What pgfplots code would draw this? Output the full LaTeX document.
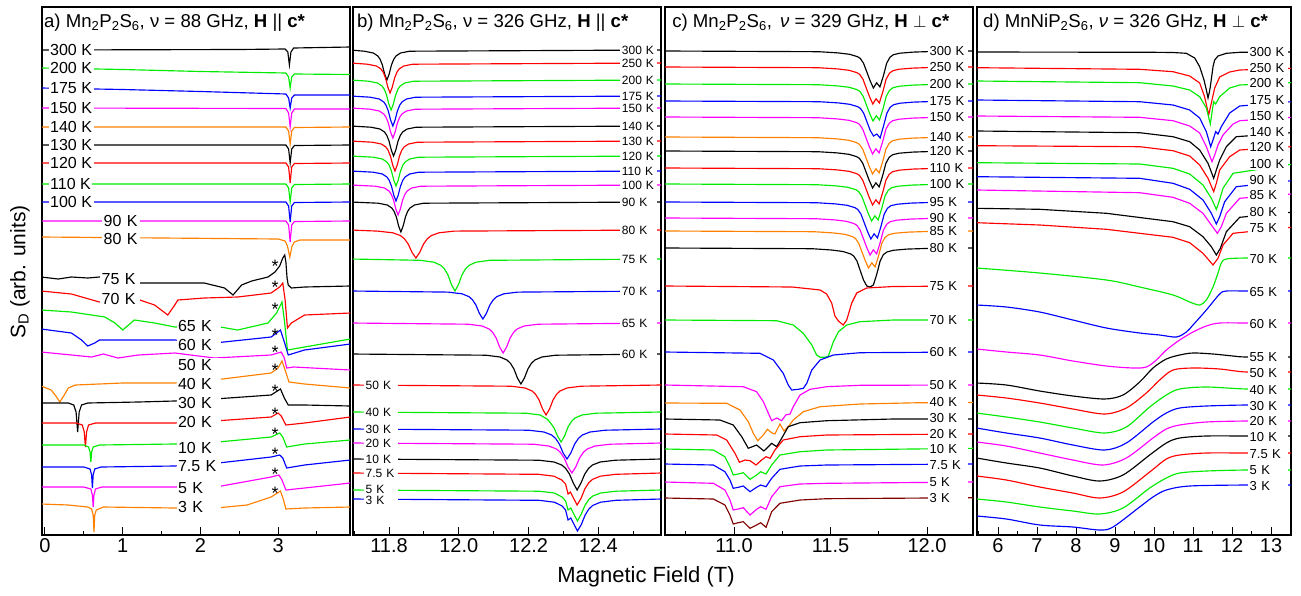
\documentclass[border=0pt]{standalone}
\usepackage{fontspec}
\setmainfont{Liberation Sans}
\usepackage{pgfplots}
\pgfplotsset{compat=1.18}
\definecolor{cred}{RGB}{255,0,0}
\definecolor{cgreen}{RGB}{0,235,0}
\definecolor{cblue}{RGB}{0,0,255}
\definecolor{cmag}{RGB}{255,0,255}
\definecolor{corange}{RGB}{255,128,0}
\definecolor{cbrown}{RGB}{128,0,0}

\newcommand{\fa}{\fontsize{16}{16}\selectfont}
\newcommand{\fs}{\fontsize{18}{18}\selectfont}
\newcommand{\fb}{\fontsize{12}{12}\selectfont}
\newcommand{\fc}{\fontsize{13}{13}\selectfont}
\newcommand{\ft}{\fontsize{18.6}{19}\selectfont}
\newcommand{\mps}{Mn\textsubscript{2}P\textsubscript{2}S\textsubscript{6}}
% labels inside an axis: expand the loop values before pgfplots defers the node
\newcommand{\labs}[3]{\foreach \t/\y in {#3}{\edef\tmp{\noexpand\node[lab,#1] at (#2,\y) {\t};}\tmp}}

\pgfplotsset{
  panel/.style={
    scale only axis, height=528pt, anchor=south west,
    ymin=7, ymax=535, y dir=reverse, ytick=\empty,
    xtick pos=left, tick align=inside,
    major tick length=8pt, minor tick length=4pt,
    every tick/.style={black, line width=1pt},
    axis line style={line width=1.3pt},
    xticklabel style={font=\fontsize{20}{20}\selectfont},
    every axis plot/.append style={line width=1.15pt},
    clip mode=individual,
  },
}
\tikzset{
  lab/.style={fill=white, inner xsep=1.5pt, inner ysep=1pt, anchor=west, text=black, align=left},
  ttl/.style={anchor=base west, inner sep=0pt, font=\ft},
}

\begin{document}
\begin{tikzpicture}
\useasboundingbox (0,0) rectangle (1301pt,595pt);

% ---------------- a) 88 GHz ----------------
\begin{axis}[panel, at={(42pt,60pt)}, width=308pt,
  xmin=-0.0386, xmax=3.925,
  xtick={0,1,2,3}, xticklabels={0,1,2,3}, minor xtick={0.5,1.5,2.5,3.5}]
\addplot[black] coordinates {(-0.05,50) (2.5,49.5) (3.09,49) (3.125,52) (3.145,65) (3.165,52) (3.2,48) (3.93,47)};
\addplot[cgreen] coordinates {(-0.05,68) (1,69.5) (2,71.5) (3.1,73) (3.135,77) (3.155,88) (3.175,77) (3.21,74) (3.93,74.5)};
\addplot[cblue] coordinates {(-0.05,88) (1,89.5) (2,91.5) (3.1,94) (3.135,98) (3.155,108) (3.175,98) (3.21,95) (3.93,95)};
\addplot[cmag] coordinates {(-0.05,108) (3.1,108.5) (3.135,113) (3.155,127) (3.175,113) (3.21,109) (3.93,109)};
\addplot[corange] coordinates {(-0.05,127) (3.1,127) (3.135,131) (3.155,144) (3.175,131) (3.21,127.5) (3.93,127)};
\addplot[black] coordinates {(-0.05,145) (3.1,145) (3.135,149) (3.155,163) (3.175,149) (3.21,145.5) (3.93,145)};
\addplot[cred] coordinates {(-0.05,163) (3.1,163) (3.135,167) (3.155,183) (3.175,167) (3.21,163.5) (3.93,163)};
\addplot[cgreen] coordinates {(-0.05,184) (3.1,184) (3.135,188) (3.155,202) (3.175,188) (3.21,184.5) (3.93,184)};
\addplot[cblue] coordinates {(-0.05,202) (3.1,202) (3.135,206) (3.155,222) (3.175,206) (3.21,202.5) (3.93,202)};
\addplot[cmag] coordinates {(-0.05,221) (3.1,221) (3.135,225) (3.155,242) (3.175,225) (3.21,221.5) (3.93,221)};
\addplot[corange] coordinates {(-0.05,237) (1.5,238) (3.0,239) (3.09,241) (3.12,246) (3.15,257) (3.18,246) (3.21,242) (3.28,240) (3.93,240)};
\addplot[black] coordinates {(-0.05,277) (0.17,279) (0.34,277) (0.55,278) (0.70,277) (1.22,283) (1.63,283) (2.05,283) (2.31,288) (2.42,295) (2.53,285) (2.66,281) (2.87,277) (2.96,272) (3.02,266) (3.06,258) (3.085,255) (3.10,262) (3.115,278) (3.13,285) (3.17,288) (3.34,287) (3.93,286)};
\addplot[cred] coordinates {(-0.05,291) (0.34,294) (0.70,302) (1.22,300) (1.41,305) (1.58,315) (1.67,305) (1.71,300) (2.05,298) (2.48,297) (2.91,293) (3.02,287) (3.06,283) (3.09,300) (3.12,328) (3.17,323) (3.34,315) (3.93,313)};
\addplot[cgreen] coordinates {(-0.05,310) (0.34,312) (0.77,317) (0.90,323) (1.00,330) (1.15,320) (1.41,323) (1.67,327) (2.18,326) (2.48,330) (2.87,323) (2.98,313) (3.05,302) (3.08,320) (3.12,350) (3.34,347) (3.93,339)};
\addplot[cblue] coordinates {(-0.05,329) (0.34,333) (0.47,340) (0.55,346) (0.64,343) (0.70,340) (1.20,340) (1.67,340) (2.18,343) (2.91,337) (3.03,330) (3.08,342) (3.13,355) (3.34,350) (3.93,344)};
\addplot[cmag] coordinates {(-0.05,352) (0.6,357) (0.75,354) (0.94,358) (1.2,355) (1.67,353) (2.18,358) (2.91,355) (3.04,352) (3.08,358) (3.11,368) (3.2,367) (3.93,370)};
\addplot[corange] coordinates {(-0.05,386) (0.08,390) (0.14,396) (0.19,402) (0.24,396) (0.30,388) (0.39,385) (1.0,383) (1.67,383) (2.18,380) (2.91,373) (3.0,368) (3.05,361) (3.09,370) (3.14,382) (3.34,384) (3.93,388)};
\addplot[black] coordinates {(-0.05,403) (0.3,403) (0.37,405) (0.40,412) (0.42,432) (0.44,412) (0.47,405) (0.55,403) (1.2,402) (1.67,401) (2.18,399) (2.91,395) (3.03,389) (3.08,398) (3.13,405) (3.34,405) (3.93,406)};
\addplot[cred] coordinates {(-0.05,423) (0.4,423) (0.48,425) (0.505,432) (0.52,447) (0.535,432) (0.56,425) (0.65,423) (1.67,423) (2.18,421) (2.91,417) (3.0,413) (3.04,416) (3.1,425) (3.34,423) (3.93,417)};
\addplot[cgreen] coordinates {(-0.05,445) (0.5,445) (0.56,447) (0.58,452) (0.59,462) (0.60,452) (0.62,447) (0.7,445) (1.67,444) (2.23,442) (2.91,437) (3.02,433) (3.06,437) (3.11,447) (3.34,444) (3.93,440)};
\addplot[cblue] coordinates {(-0.05,467) (0.5,467) (0.58,469) (0.60,475) (0.61,488) (0.62,475) (0.64,469) (0.72,467) (1.67,466) (2.23,463) (2.91,457) (3.02,455) (3.06,458) (3.11,468) (3.34,465) (3.93,460)};
\addplot[cmag] coordinates {(-0.05,487) (0.5,487) (0.59,489) (0.61,495) (0.62,507) (0.63,495) (0.65,489) (0.73,487) (1.67,487) (2.2,487) (2.91,477) (3.01,475) (3.05,480) (3.1,490) (3.34,488) (3.93,483)};
\addplot[corange] coordinates {(-0.05,504) (0.3,505) (0.55,507) (0.60,509) (0.62,515) (0.63,532) (0.64,515) (0.66,510) (0.75,507) (1.67,508) (2.2,508) (2.6,505) (2.91,497) (3.03,491) (3.07,500) (3.1,509) (3.34,508) (3.93,507)};
\node[ttl] at (-0.014,27) {a) \mps, ν = 88 GHz, \textbf{H} || \textbf{c*}};
\labs{font=\noexpand\fa}{0.045}{300 K/50, 200 K/68, 175 K/88, 150 K/108, 140 K/127, 130 K/145, 120 K/163, 110 K/184, 100 K/202}
\labs{font=\noexpand\fa, text width=35pt}{0.734}{90 K/221, 80 K/239}
\labs{font=\noexpand\fa, text width=37pt}{0.708}{75 K/279, 70 K/299}
\labs{font=\noexpand\fa, text width=41pt}{1.69}{65 K/326, 60 K/345, 50 K/365, 40 K/384, 30 K/403, 20 K/422, 10 K/448, 7.5 K/466, 5 K/488, 3 K/507}
\labs{font=\noexpand\fs, fill=none, inner sep=0pt, anchor=center}{2.96}{*/266, */287, */309, */335, */352, */370, */391, */414, */434, */454, */474, */493}
\end{axis}

% ---------------- b) 326 GHz, H || c* ----------------
\begin{axis}[panel, at={(353pt,60pt)}, width=308pt,
  xmin=11.6968, xmax=12.5794,
  xtick={11.8,12.0,12.2,12.4}, xticklabels={11.8,12.0,12.2,12.4},
  minor xtick={11.7,11.9,12.1,12.3,12.5}]
\addplot[black] coordinates {(11.69,50) (11.729,51.2) (11.755,53) (11.768,56) (11.7745,59.3) (11.781,65) (11.7875,74) (11.794,80) (11.8005,74) (11.807,65) (11.8135,59.3) (11.820,56) (11.833,53) (11.859,51.2) (12.58,50)};
\addplot[cred] coordinates {(11.69,63) (11.738,64.2) (11.764,66) (11.777,69) (11.7835,72.3) (11.790,78) (11.7965,87) (11.803,93) (11.8095,87) (11.816,78) (11.8225,72.3) (11.829,69) (11.842,66) (11.868,64.2) (12.58,63)};
\addplot[cgreen] coordinates {(11.69,80) (11.741,81.2) (11.767,83) (11.780,86) (11.7865,89.3) (11.793,95) (11.7995,104) (11.806,110) (11.8125,104) (11.819,95) (11.8255,89.3) (11.832,86) (11.845,83) (11.871,81.2) (12.58,80)};
\addplot[cblue] coordinates {(11.69,96) (11.746,97.2) (11.772,99) (11.785,102) (11.7915,105.3) (11.798,111) (11.8045,120) (11.811,126) (11.8175,120) (11.824,111) (11.8305,105.3) (11.837,102) (11.850,99) (11.876,97.2) (12.58,96)};
\addplot[cmag] coordinates {(11.69,108) (11.746,109.2) (11.772,111) (11.785,114) (11.7915,117.3) (11.798,123) (11.8045,132) (11.811,138) (11.8175,132) (11.824,123) (11.8305,117.3) (11.837,114) (11.850,111) (11.876,109.2) (12.58,108)};
\addplot[black] coordinates {(11.69,126) (11.748,127.2) (11.774,129) (11.787,132) (11.7935,135.3) (11.800,141) (11.8065,150) (11.813,156) (11.8195,150) (11.826,141) (11.8325,135.3) (11.839,132) (11.852,129) (11.878,127.2) (12.58,126)};
\addplot[cred] coordinates {(11.69,141) (11.752,142.2) (11.778,144) (11.791,147) (11.7975,150.3) (11.804,156) (11.8105,165) (11.817,171) (11.8235,165) (11.830,156) (11.8365,150.3) (11.843,147) (11.856,144) (11.882,142.2) (12.58,141)};
\addplot[cgreen] coordinates {(11.69,156) (11.755,157.2) (11.781,159) (11.794,162) (11.8005,165.3) (11.807,171) (11.8135,180) (11.820,186) (11.8265,180) (11.833,171) (11.8395,165.3) (11.846,162) (11.859,159) (11.885,157.2) (12.58,156)};
\addplot[cblue] coordinates {(11.69,171) (11.755,172.2) (11.781,174) (11.794,177) (11.8005,180.3) (11.807,186) (11.8135,195) (11.820,201) (11.8265,195) (11.833,186) (11.8395,180.3) (11.846,177) (11.859,174) (11.885,172.2) (12.58,171)};
\addplot[cmag] coordinates {(11.69,185) (11.761,186.2) (11.787,188) (11.800,191) (11.8065,194.3) (11.813,200) (11.8195,209) (11.826,215) (11.8325,209) (11.839,200) (11.8455,194.3) (11.852,191) (11.865,188) (11.891,186.2) (12.58,185)};
\addplot[black] coordinates {(11.69,202) (11.769,203.2) (11.795,205) (11.808,208) (11.8145,211.3) (11.821,217) (11.8275,226) (11.834,232) (11.8405,226) (11.847,217) (11.8535,211.3) (11.860,208) (11.873,205) (11.899,203.2) (12.58,202)};
\addplot[cred] coordinates {(11.69,230) (11.767,231.1) (11.811,232.8) (11.833,235.6) (11.844,238.7) (11.855,244) (11.866,252.4) (11.877,258) (11.888,252.4) (11.899,244) (11.910,238.7) (11.921,235.6) (11.943,232.8) (11.987,231.1) (12.58,230)};
\addplot[cgreen] coordinates {(11.69,259) (11.889,260.3) (11.929,262.2) (11.949,265.4) (11.959,268.9) (11.969,275) (11.979,284.6) (11.989,291) (11.999,284.6) (12.009,275) (12.019,268.9) (12.029,265.4) (12.049,262.2) (12.089,260.3) (12.58,259)};
\addplot[cblue] coordinates {(11.69,291) (11.969,292.1) (12.009,293.8) (12.029,296.6) (12.039,299.7) (12.049,305) (12.059,313.4) (12.069,319) (12.079,313.4) (12.089,305) (12.099,299.7) (12.109,296.6) (12.129,293.8) (12.169,292.1) (12.58,291)};
\addplot[cmag] coordinates {(11.69,323) (12.027,324.2) (12.067,326) (12.087,329) (12.097,332.3) (12.107,338) (12.117,347) (12.127,353) (12.137,347) (12.147,338) (12.157,332.3) (12.167,329) (12.187,326) (12.227,324.2) (12.58,323)};
\addplot[black] coordinates {(11.69,354) (12.078,355.2) (12.118,357) (12.138,360) (12.148,363.3) (12.158,369) (12.168,378) (12.178,384) (12.188,378) (12.198,369) (12.208,363.3) (12.218,360) (12.238,357) (12.278,355.2) (12.58,354)};
\addplot[cred] coordinates {(11.69,385) (12.15,386.2) (12.19,388) (12.21,391) (12.22,394.3) (12.23,400) (12.24,409) (12.25,415) (12.26,409) (12.27,400) (12.28,394.3) (12.29,391) (12.31,388) (12.35,386.2) (12.58,385)};
\addplot[cgreen] coordinates {(11.69,412) (12.193,413.2) (12.233,415) (12.253,419) (12.263,423) (12.273,428) (12.283,436) (12.293,442) (12.303,436) (12.313,427) (12.323,421.3) (12.333,418) (12.353,415) (12.393,413.2) (12.58,412)};
\addplot[cblue] coordinates {(11.69,429) (12.20,430.2) (12.244,432) (12.266,435) (12.277,438.3) (12.288,444) (12.299,453) (12.31,459) (12.321,453) (12.332,444) (12.343,438.3) (12.354,435) (12.376,432) (12.42,430.2) (12.58,429)};
\addplot[cmag] coordinates {(11.69,443) (12.214,444.2) (12.258,446) (12.28,449) (12.291,452.3) (12.302,458) (12.313,467) (12.324,473) (12.335,467) (12.346,458) (12.357,452.3) (12.368,449) (12.39,446) (12.434,444.2) (12.58,443)};
\addplot[black] coordinates {(11.69,459) (12.229,460.2) (12.273,462) (12.295,465) (12.306,468.3) (12.317,474) (12.328,483) (12.339,490) (12.35,483) (12.361,474) (12.372,468.3) (12.383,465) (12.405,462) (12.449,460.2) (12.58,459)};
\addplot[cred] coordinates {(11.69,473) (12.229,474.3) (12.273,476.2) (12.295,480) (12.306,484) (12.313,494) (12.320,492) (12.33,499) (12.339,505) (12.35,498.6) (12.361,489) (12.372,482.9) (12.383,479.4) (12.405,476.2) (12.449,474.3) (12.58,473)};
\addplot[cgreen] coordinates {(11.69,490) (12.23,491.2) (12.274,493) (12.296,497) (12.306,501) (12.313,510) (12.321,508) (12.331,515) (12.34,521) (12.351,514) (12.362,505) (12.373,499.3) (12.384,496) (12.406,493) (12.45,491.2) (12.58,490)};
\addplot[cblue] coordinates {(11.69,499) (12.23,500.3) (12.274,502.2) (12.296,506) (12.306,510) (12.313,520) (12.321,518) (12.331,525) (12.34,531) (12.351,524.6) (12.362,515) (12.373,508.9) (12.384,505.4) (12.406,502.2) (12.45,500.3) (12.58,499)};
\node[ttl] at (11.708,27) {b) \mps, ν = 326 GHz, \textbf{H} || \textbf{c*}};
\labs{font=\noexpand\fb, text width=34pt}{12.4625}{300 K/50, 250 K/63, 200 K/80, 175 K/96, 150 K/108, 140 K/126, 130 K/141, 120 K/156, 110 K/171, 100 K/185, 90 K/202, 80 K/230, 75 K/259, 70 K/291, 65 K/323, 60 K/354}
\labs{font=\noexpand\fb, text width=31pt}{11.7284}{50 K/385, 40 K/412, 30 K/429, 20 K/443, 10 K/459, 7.5 K/473, 5 K/489, 3 K/500}
\end{axis}

% ---------------- c) 329 GHz, H perp c* ----------------
\begin{axis}[panel, at={(665pt,60pt)}, width=308pt,
  xmin=10.6425, xmax=12.2383,
  xtick={11,11.5,12}, xticklabels={11.0,11.5,12.0}, minor xtick={10.75,11.25,11.75}]
\addplot[black] coordinates {(10.64,51) (11.439,51.7) (11.539,52.9) (11.599,54.3) (11.639,56.6) (11.654,58.4) (11.671,63.2) (11.687,71.4) (11.705,80.6) (11.722,88) (11.739,82.8) (11.756,86.9) (11.774,75.8) (11.791,63.2) (11.808,57.3) (11.826,54.7) (11.859,53.2) (11.929,52.1) (12.039,51.4) (12.24,51)};
\addplot[cred] coordinates {(10.64,67) (11.436,67.7) (11.536,68.9) (11.596,70.3) (11.636,72.6) (11.651,74.4) (11.668,79.2) (11.684,87.4) (11.702,96.6) (11.719,104) (11.736,98.8) (11.753,102.9) (11.771,91.8) (11.788,79.2) (11.805,73.3) (11.823,70.7) (11.856,69.2) (11.926,68.1) (12.036,67.4) (12.24,67)};
\addplot[cgreen] coordinates {(10.64,84) (11.437,84.7) (11.537,85.9) (11.597,87.3) (11.637,89.6) (11.652,91.4) (11.669,96.2) (11.685,104.4) (11.703,113.6) (11.72,121) (11.737,115.8) (11.754,119.9) (11.772,108.8) (11.789,96.2) (11.806,90.3) (11.824,87.7) (11.857,86.2) (11.927,85.1) (12.037,84.4) (12.24,84)};
\addplot[cblue] coordinates {(10.64,101) (11.44,101.7) (11.54,102.9) (11.60,104.3) (11.64,106.6) (11.655,108.4) (11.672,113.2) (11.688,121.4) (11.706,130.6) (11.723,136) (11.74,134) (11.757,138) (11.775,125.8) (11.792,113.2) (11.809,107.3) (11.827,104.7) (11.86,103.2) (11.93,102.1) (12.04,101.4) (12.24,101)};
\addplot[cmag] coordinates {(10.64,117) (11.435,117.7) (11.535,118.9) (11.595,120.3) (11.635,122.6) (11.65,124.4) (11.667,129.2) (11.683,137.4) (11.701,146.6) (11.718,154) (11.735,148.8) (11.752,152.9) (11.77,141.8) (11.787,129.2) (11.804,123.3) (11.822,120.7) (11.855,119.2) (11.925,118.1) (12.035,117.4) (12.24,117)};
\addplot[corange] coordinates {(10.64,137) (11.435,137.7) (11.535,138.9) (11.595,140.3) (11.635,142.6) (11.65,144.4) (11.667,149.2) (11.683,157.4) (11.701,166.6) (11.718,174) (11.735,168.8) (11.752,172.9) (11.77,161.8) (11.787,149.2) (11.804,143.3) (11.822,140.7) (11.855,139.2) (11.925,138.1) (12.035,137.4) (12.24,137)};
\addplot[black] coordinates {(10.64,151) (11.435,151.7) (11.535,152.9) (11.595,154.3) (11.635,156.6) (11.65,158.4) (11.667,163.2) (11.683,171.4) (11.701,180.6) (11.718,188) (11.735,182.8) (11.752,186.9) (11.77,175.8) (11.787,163.2) (11.804,157.3) (11.822,154.7) (11.855,153.2) (11.925,152.1) (12.035,151.4) (12.24,151)};
\addplot[cred] coordinates {(10.64,168) (11.435,168.7) (11.535,169.9) (11.595,171.3) (11.635,173.6) (11.65,175.4) (11.667,180.2) (11.683,188.4) (11.701,197.6) (11.718,205) (11.735,199.8) (11.752,203.9) (11.77,192.8) (11.787,180.2) (11.804,174.3) (11.822,171.7) (11.855,170.2) (11.925,169.1) (12.035,168.4) (12.24,168)};
\addplot[cgreen] coordinates {(10.64,184) (11.43,184.7) (11.53,185.9) (11.59,187.3) (11.63,189.6) (11.645,191.4) (11.662,196.2) (11.678,204.4) (11.696,213.6) (11.713,221) (11.73,215.8) (11.747,219.9) (11.765,208.8) (11.782,196.2) (11.799,190.3) (11.817,187.7) (11.85,186.2) (11.92,185.1) (12.03,184.4) (12.24,184)};
\addplot[cblue] coordinates {(10.64,202) (11.426,202.7) (11.526,203.9) (11.586,205.3) (11.626,207.6) (11.641,209.4) (11.658,214.2) (11.674,222.4) (11.692,231.6) (11.709,239) (11.726,233.8) (11.743,237.9) (11.761,226.8) (11.778,214.2) (11.795,208.3) (11.813,205.7) (11.846,204.2) (11.916,203.1) (12.026,202.4) (12.24,202)};
\addplot[cmag] coordinates {(10.64,218) (11.422,218.7) (11.522,219.9) (11.582,221.3) (11.622,223.6) (11.637,225.4) (11.654,230.2) (11.67,238.4) (11.688,247.6) (11.705,255) (11.722,249.8) (11.739,253.9) (11.757,242.8) (11.774,230.2) (11.791,224.3) (11.809,221.7) (11.842,220.2) (11.912,219.1) (12.022,218.4) (12.24,218)};
\addplot[corange] coordinates {(10.64,231) (11.414,231.7) (11.514,232.9) (11.574,234.3) (11.614,236.6) (11.629,238.4) (11.646,243.2) (11.662,251.4) (11.68,260.6) (11.697,268) (11.714,262.8) (11.731,266.9) (11.749,255.8) (11.766,243.2) (11.783,237.3) (11.801,234.7) (11.834,233.2) (11.904,232.1) (12.014,231.4) (12.24,231)};
\addplot[black] coordinates {(10.64,248) (11.405,248.7) (11.505,250) (11.565,251.5) (11.605,254) (11.62,256) (11.637,261) (11.653,270) (11.671,280) (11.688,286) (11.705,287) (11.722,285) (11.74,274) (11.757,261) (11.774,254.6) (11.792,252) (11.825,250.3) (11.895,249.1) (12.005,248.4) (12.24,248)};
\addplot[cred] coordinates {(10.64,286) (11.3,287) (11.40,289) (11.446,290) (11.48,294) (11.506,303) (11.523,316) (11.541,321) (11.566,325) (11.584,320) (11.61,303) (11.636,293) (11.687,288) (11.825,286.5) (12.24,286)};
\addplot[cgreen] coordinates {(10.64,320) (11.221,320.7) (11.307,325) (11.359,333.3) (11.403,345) (11.428,355) (11.446,357.3) (11.472,357.3) (11.489,356) (11.515,341.7) (11.541,331.7) (11.584,325) (11.653,321.7) (11.825,320) (12.24,320)};
\addplot[cblue] coordinates {(10.64,352) (11.135,353.3) (11.204,360) (11.255,373.3) (11.281,385) (11.299,390) (11.333,389.3) (11.359,388.3) (11.377,383.3) (11.403,370) (11.446,360) (11.515,355) (11.653,352.7) (12.24,352)};
\addplot[cmag] coordinates {(10.64,385) (11.048,386.7) (11.117,391.7) (11.152,401.7) (11.178,413.3) (11.195,420.7) (11.221,418) (11.247,420.7) (11.268,415) (11.29,414) (11.307,406.7) (11.342,395) (11.394,389.3) (11.48,386.7) (11.653,385.3) (12.24,385)};
\addplot[corange] coordinates {(10.64,403) (10.962,403.3) (11.031,410) (11.074,421.7) (11.1,433.3) (11.123,440.7) (11.152,435) (11.173,429.3) (11.195,432.7) (11.212,434) (11.238,424) (11.259,431) (11.281,426.7) (11.307,420) (11.359,411.7) (11.446,406.7) (11.653,404) (11.964,402.7) (12.24,402.5)};
\addplot[black] coordinates {(10.64,419) (10.927,420) (10.996,425) (11.04,436.7) (11.074,448.3) (11.117,445) (11.155,451) (11.195,443.3) (11.221,446.7) (11.247,438.3) (11.281,426.7) (11.342,422.7) (11.48,420.7) (11.825,419) (12.24,419)};
\addplot[cred] coordinates {(10.64,434) (10.91,435) (10.962,440) (11.005,453.3) (11.028,462.3) (11.057,460) (11.083,460.7) (11.114,465) (11.143,460) (11.166,456.7) (11.187,458.3) (11.212,450) (11.255,440) (11.342,436.7) (11.48,435) (12.24,434)};
\addplot[cgreen] coordinates {(10.64,449) (10.893,450) (10.953,456.7) (10.979,466.7) (10.996,475) (11.022,474) (11.048,472.7) (11.083,479.3) (11.117,475) (11.138,471.7) (11.166,474) (11.195,465) (11.238,455) (11.342,451.7) (11.48,450) (12.24,448.3)};
\addplot[cblue] coordinates {(10.64,464) (10.893,465) (10.953,471.7) (10.979,480) (10.996,488.3) (11.022,487.3) (11.048,486) (11.083,491.7) (11.117,487.3) (11.138,485) (11.166,486.7) (11.195,478.3) (11.238,469.3) (11.342,466) (11.48,465) (12.24,464)};
\addplot[cmag] coordinates {(10.64,482) (10.893,483.3) (10.953,490) (10.979,500) (10.996,510) (11.022,509) (11.048,507.7) (11.083,515) (11.117,509.3) (11.138,506.7) (11.166,509.3) (11.195,496.7) (11.238,486.7) (11.342,484) (11.48,483.3) (12.24,482)};
\addplot[cbrown] coordinates {(10.64,498) (10.893,499) (10.953,505) (10.979,515) (10.996,524) (11.022,522.7) (11.048,521.7) (11.083,528.3) (11.117,525) (11.138,522.7) (11.166,527.3) (11.195,511.7) (11.238,503.3) (11.342,500) (11.48,498.7) (12.24,497.7)};
\node[ttl] at (10.679,27) {c) \mps,\, \textit{ν} = 329 GHz, \textbf{H} $\perp$ \textbf{c*}};
\labs{font=\noexpand\fc, text width=37pt}{12.005}{300 K/51, 250 K/67, 200 K/84, 175 K/101, 150 K/117, 140 K/137, 120 K/151, 110 K/168, 100 K/184, 95 K/202, 90 K/218, 85 K/231, 80 K/248, 75 K/286, 70 K/320, 60 K/352, 50 K/385, 40 K/402, 30 K/418, 20 K/434, 10 K/449, 7.5 K/465, 5 K/482, 3 K/498}
\end{axis}

% ---------------- d) MnNiP2S6 ----------------
\begin{axis}[panel, at={(977pt,60pt)}, width=314pt,
  xmin=5.4615, xmax=13.5128,
  xtick={6,7,8,9,10,11,12,13}, xticklabels={6,7,8,9,10,11,12,13},
  minor xtick={5.5,6.5,7.5,8.5,9.5,10.5,11.5,12.5,13.5}]
\addplot[black] coordinates {(5.45,52) (10.0,52.3) (10.487,52.5) (10.829,53.3) (11.043,58) (11.171,66.7) (11.282,80) (11.342,90) (11.385,98) (11.42,92) (11.444,86.7) (11.513,66.7) (11.556,60) (11.641,56) (11.855,53.3) (12.197,52.3) (13.52,52)};
\addplot[cred] coordinates {(5.45,67.7) (9.632,69.3) (10.487,71.7) (10.915,76) (11.171,83) (11.299,97) (11.402,115) (11.47,103) (11.556,88) (11.684,77) (11.94,72) (12.197,70) (13.52,68.3)};
\addplot[cgreen] coordinates {(5.45,81) (9.632,82.7) (10.487,86) (10.915,90) (11.171,96.7) (11.342,108) (11.444,124) (11.496,110) (11.53,101.7) (11.581,104) (11.684,96.7) (11.94,88) (12.197,85) (13.52,82.7)};
\addplot[cblue] coordinates {(5.45,100) (9.632,101.7) (10.487,105) (10.915,110) (11.171,118) (11.342,131.7) (11.453,146.7) (11.513,140) (11.581,131.7) (11.641,134) (11.726,126.7) (11.94,113) (12.197,106) (13.52,101.7)};
\addplot[cmag] coordinates {(5.45,116) (9.632,117.3) (10.487,120.7) (10.915,126) (11.171,133) (11.342,146.7) (11.487,161.7) (11.556,155) (11.641,145) (11.769,135) (12.026,124) (12.197,120.7) (13.52,117.3)};
\addplot[black] coordinates {(5.45,131) (9.632,132.7) (10.487,136.7) (10.915,141.7) (11.171,150) (11.385,163.3) (11.53,178.3) (11.598,170) (11.684,160) (11.855,146.7) (12.11,136.7) (13.52,132.7)};
\addplot[cred] coordinates {(5.45,145.7) (9.632,146.7) (10.487,150.7) (10.915,156) (11.171,165) (11.385,178.3) (11.53,191.7) (11.598,183.3) (11.684,170) (11.94,156.7) (12.197,150) (13.52,146.7)};
\addplot[cgreen] coordinates {(5.45,162.7) (9.632,164) (10.487,168.3) (10.915,174) (11.256,185) (11.47,198.3) (11.598,209.3) (11.667,201.7) (11.769,188.3) (12.026,173.3) (13.52,164.3)};
\addplot[cblue] coordinates {(5.45,176.7) (9.632,178.3) (10.487,183.3) (10.915,189.3) (11.256,200) (11.47,213.3) (11.598,224) (11.684,216.7) (11.812,201.7) (12.11,186.7) (13.52,180.7)};
\addplot[cmag] coordinates {(5.45,190) (9.632,192.7) (10.487,197.3) (10.915,203.3) (11.256,213.3) (11.47,225) (11.624,233.3) (11.726,226.7) (11.855,213.3) (12.197,198.3) (13.52,194)};
\addplot[black] coordinates {(5.45,208.3) (7.068,209.3) (8.778,213.3) (10.487,221.7) (10.915,226.7) (11.256,236.7) (11.47,246.7) (11.598,255) (11.701,248.3) (11.855,231.7) (12.197,217.3) (13.52,212.3)};
\addplot[cred] coordinates {(5.45,222.7) (7.068,225) (8.778,229.3) (10.487,237.3) (10.915,242.7) (11.256,253.3) (11.513,265) (11.641,258.3) (11.769,245) (12.026,233.3) (13.52,227.3)};
\addplot[cgreen, smooth] coordinates {(5.45,268) (7.068,273) (8.778,280) (9.632,287) (10.487,295) (10.915,302) (11.171,305) (11.342,300) (11.513,287) (11.641,273) (11.726,263) (11.855,259) (12.368,258) (13.52,258)};
\addplot[cblue, smooth] coordinates {(5.45,305) (6.214,307) (7.068,312) (7.92,320) (8.778,328) (9.632,333) (10.145,335) (10.573,337) (10.829,332) (11.0,325) (11.342,310) (11.684,294) (11.855,291) (12.368,291) (13.52,291)};
\addplot[cmag, smooth] coordinates {(5.45,349) (6.214,352) (7.068,355) (7.92,361) (8.778,366) (9.462,368) (9.803,367) (10.06,360) (10.316,350) (10.658,340) (11.0,332) (11.342,326) (11.684,323) (12.368,323) (13.52,323)};
\addplot[black, smooth] coordinates {(5.45,383) (6.214,385) (7.068,391) (7.92,396) (8.735,399) (9.205,395) (9.632,382) (9.974,368) (10.316,359) (10.658,355) (11.0,353) (11.513,354) (12.026,356) (12.368,357) (13.52,357)};
\addplot[cred, smooth] coordinates {(5.45,395) (6.214,398) (7.068,403) (7.92,409) (8.735,414) (9.291,408) (9.803,393) (10.145,380) (10.487,370) (11.0,368) (11.684,369) (12.368,372) (13.52,372)};
\addplot[cgreen, smooth] coordinates {(5.45,413) (6.214,417) (7.068,422) (7.92,428) (8.735,433) (9.291,427) (9.889,407) (10.316,395) (10.658,389) (11.342,387) (12.368,389) (13.52,389)};
\addplot[cblue, smooth] coordinates {(5.45,428) (6.214,433) (7.068,438) (7.92,445) (8.735,450) (9.291,443) (9.974,422) (10.316,413) (10.658,408) (11.342,406) (12.368,405) (13.52,405)};
\addplot[cmag, smooth] coordinates {(5.45,442) (6.214,446) (7.068,453) (7.92,460) (8.692,465) (9.291,458) (9.974,438) (10.316,429) (10.658,425) (11.342,422) (12.368,421) (13.52,421)};
\addplot[black, smooth] coordinates {(5.45,458) (6.214,463) (7.068,468) (7.92,476) (8.607,481) (9.205,475) (9.889,455) (10.316,443) (10.658,438) (11.342,436) (12.368,436) (13.52,436)};
\addplot[cred, smooth] coordinates {(5.45,476) (6.214,480) (7.068,487) (7.92,493) (8.607,498) (9.205,492) (9.889,472) (10.316,459) (10.658,455) (11.342,453) (12.368,453) (13.52,453)};
\addplot[cgreen, smooth] coordinates {(5.45,499) (6.214,502) (7.068,507) (7.92,511) (8.607,514) (9.205,508) (9.889,488) (10.316,478) (10.658,473) (11.342,471) (12.368,470) (13.52,470)};
\addplot[cblue, smooth] coordinates {(5.45,516) (6.214,519) (7.068,525) (7.92,527) (8.607,530) (8.949,527) (9.632,507) (9.974,497) (10.316,490) (10.915,486) (12.368,485) (13.52,485)};
\node[ttl] at (5.615,27) {d) MnNiP\textsubscript{2}S\textsubscript{6}, \textit{ν} = 326 GHz, \textbf{H} $\perp$ \textbf{c*}};
\labs{font=\noexpand\fc, text width=37pt}{12.41}{300 K/52, 250 K/68, 200 K/83, 175 K/100, 150 K/116, 140 K/132, 120 K/147, 100 K/164, 90 K/180, 85 K/195, 80 K/212, 75 K/228, 70 K/259, 65 K/292, 60 K/324, 55 K/357, 50 K/373, 40 K/390, 30 K/406, 20 K/421, 10 K/437, 7.5 K/454, 5 K/470, 3 K/486}
\end{axis}

\node[font=\fontsize{22}{22}\selectfont] at (646pt,18pt) {Magnetic Field (T)};
\node[font=\fontsize{21}{21}\selectfont, rotate=90] at (20pt,323pt) {S\textsubscript{D} (arb. units)};
\end{tikzpicture}
\end{document}
